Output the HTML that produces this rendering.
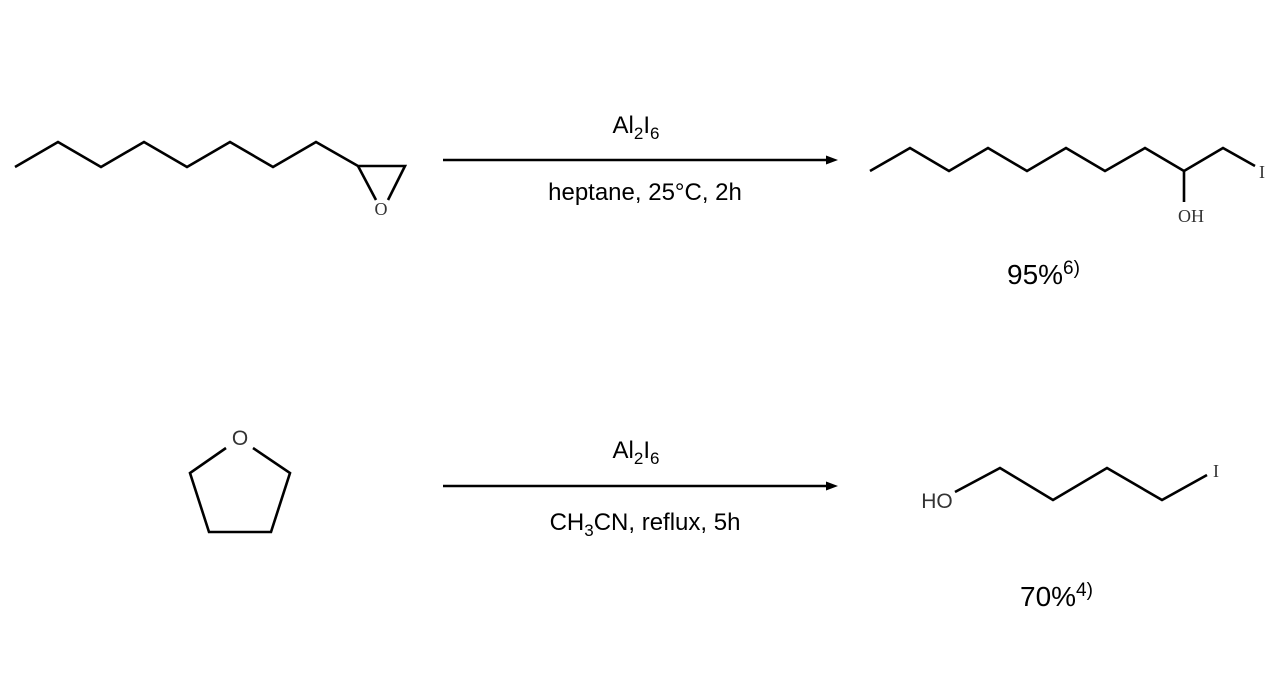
<!DOCTYPE html>
<html><head><meta charset="utf-8"><style>
html,body{margin:0;padding:0;background:#fff;width:1280px;height:680px;overflow:hidden}
svg{display:block}
</style></head><body>
<svg width="1280" height="680" viewBox="0 0 1280 680" xmlns="http://www.w3.org/2000/svg" font-family="Liberation Sans, Arial, sans-serif">
<g fill="none" stroke="#000" stroke-width="2.6" stroke-linejoin="miter">
<polyline points="15,167 58,142 101,167 144,142 187,167 230,142 273,167 316,142 358,166 405,166 388,200"/>
<line x1="358" y1="166" x2="376" y2="200"/>
<polyline points="870,171 910,148 949,171 988,148 1027,171 1066,148 1105,171 1145,148 1184,171 1223,148 1255,166"/>
<line x1="1184" y1="171" x2="1184" y2="202"/>
<polyline points="226,448 190,473 209,532 271,532 290,473 253,448"/>
<polyline points="955,492 1000,468 1053,500 1107,468 1162,500 1207,475"/>
<line x1="443" y1="160" x2="830" y2="160"/>
<line x1="443" y1="486" x2="830" y2="486"/>
</g>
<polygon points="838,160 826,155.5 826,164.5" fill="#000"/>
<polygon points="838,486 826,481.5 826,490.5" fill="#000"/>
<g font-family="Liberation Serif, serif" font-size="18" fill="#333">
<text x="381" y="215" text-anchor="middle">O</text>
<text x="1262" y="178" text-anchor="middle">I</text>
<text x="1191" y="222" text-anchor="middle">OH</text>
<text x="1216" y="477" text-anchor="middle">I</text>
</g>
<g font-size="21" fill="#333">
<text x="240" y="445" text-anchor="middle">O</text>
<text x="937" y="508" text-anchor="middle">HO</text>
</g>
<g font-size="24" fill="#000" text-anchor="middle">
<text x="636" y="133">Al<tspan font-size="17" dy="6">2</tspan><tspan dy="-6">I</tspan><tspan font-size="17" dy="6">6</tspan></text>
<text x="645" y="200">heptane, 25°C, 2h</text>
<text x="636" y="458">Al<tspan font-size="17" dy="6">2</tspan><tspan dy="-6">I</tspan><tspan font-size="17" dy="6">6</tspan></text>
<text x="645" y="530">CH<tspan font-size="17" dy="6">3</tspan><tspan dy="-6">CN, reflux, 5h</tspan></text>
</g>
<g font-size="28" fill="#000">
<text x="1007" y="284">95%<tspan font-size="19" dy="-10">6)</tspan></text>
<text x="1020" y="606">70%<tspan font-size="19" dy="-10">4)</tspan></text>
</g>
</svg>
</body></html>
